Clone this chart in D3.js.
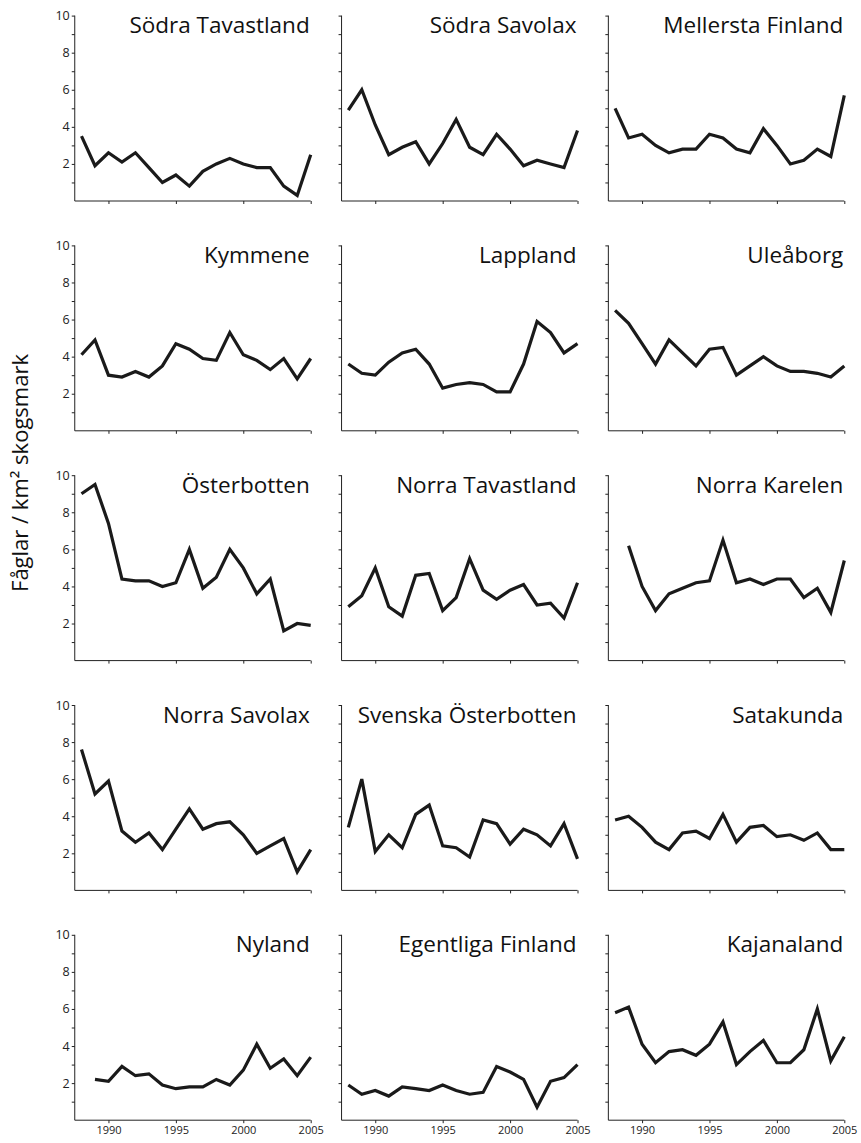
<!DOCTYPE html>
<html><head><meta charset="utf-8">
<script src="https://cdn.jsdelivr.net/npm/d3@7/dist/d3.min.js"></script>
<style>body{margin:0;background:#fff}svg{display:block}</style>
</head><body>
<script>
const years = d3.range(1988, 2006);
const regions = ["Södra Tavastland","Södra Savolax","Mellersta Finland","Kymmene","Lappland","Uleåborg","Österbotten","Norra Tavastland","Norra Karelen","Norra Savolax","Svenska Österbotten","Satakunda","Nyland","Egentliga Finland","Kajanaland"];
const sodraTavastland = [3.5,1.9,2.6,2.1,2.6,1.8,1.0,1.4,0.8,1.6,2.0,2.3,2.0,1.8,1.8,0.8,0.3,2.5];
const sodraSavolax = [4.9,6.0,4.1,2.5,2.9,3.2,2.0,3.1,4.4,2.9,2.5,3.6,2.8,1.9,2.2,2.0,1.8,3.8];
const mellerstaFinland = [5.0,3.4,3.6,3.0,2.6,2.8,2.8,3.6,3.4,2.8,2.6,3.9,3.0,2.0,2.2,2.8,2.4,5.7];
const kymmene = [4.1,4.9,3.0,2.9,3.2,2.9,3.5,4.7,4.4,3.9,3.8,5.3,4.1,3.8,3.3,3.9,2.8,3.9];
const lappland = [3.6,3.1,3.0,3.7,4.2,4.4,3.6,2.3,2.5,2.6,2.5,2.1,2.1,3.6,5.9,5.3,4.2,4.7];
const uleaborg = [6.5,5.8,4.7,3.6,4.9,4.2,3.5,4.4,4.5,3.0,3.5,4.0,3.5,3.2,3.2,3.1,2.9,3.5];
const osterbotten = [9.0,9.5,7.4,4.4,4.3,4.3,4.0,4.2,6.0,3.9,4.5,6.0,5.0,3.6,4.4,1.6,2.0,1.9];
const norraTavastland = [2.9,3.5,5.0,2.9,2.4,4.6,4.7,2.7,3.4,5.5,3.8,3.3,3.8,4.1,3.0,3.1,2.3,4.2];
const norraKarelen = [null,6.2,4.0,2.7,3.6,3.9,4.2,4.3,6.5,4.2,4.4,4.1,4.4,4.4,3.4,3.9,2.6,5.4];
const norraSavolax = [7.6,5.2,5.9,3.2,2.6,3.1,2.2,3.3,4.4,3.3,3.6,3.7,3.0,2.0,2.4,2.8,1.0,2.2];
const svenskaOsterbotten = [3.4,6.0,2.1,3.0,2.3,4.1,4.6,2.4,2.3,1.8,3.8,3.6,2.5,3.3,3.0,2.4,3.6,1.7];
const satakunda = [3.8,4.0,3.4,2.6,2.2,3.1,3.2,2.8,4.1,2.6,3.4,3.5,2.9,3.0,2.7,3.1,2.2,2.2];
const nyland = [null,2.2,2.1,2.9,2.4,2.5,1.9,1.7,1.8,1.8,2.2,1.9,2.7,4.1,2.8,3.3,2.4,3.4];
const egentligaFinland = [1.9,1.4,1.6,1.3,1.8,1.7,1.6,1.9,1.6,1.4,1.5,2.9,2.6,2.2,0.7,2.1,2.3,3.0];
const kajanaland = [5.8,6.1,4.1,3.1,3.7,3.8,3.5,4.1,5.3,3.0,3.7,4.3,3.1,3.1,3.8,6.0,3.2,4.5];
const seriesList = [sodraTavastland,sodraSavolax,mellerstaFinland,kymmene,lappland,uleaborg,osterbotten,norraTavastland,norraKarelen,norraSavolax,svenskaOsterbotten,satakunda,nyland,egentligaFinland,kajanaland];
const yTickLabels = [2,4,6,8,10];
const xTickLabels = [1990,1995,2000,2005];
const yAxisTitle = "Fåglar / km² skogsmark";

const W = 861, H = 1143;
const svg = d3.select("body").append("svg").attr("width", W).attr("height", H);
const font = "'Open Sans', Lato, sans-serif";
const axisColor = "#222";

seriesList.forEach((vals, i) => {
  const c = i % 3, r = Math.floor(i / 3);
  const x2005 = 310.7 + c * 266.8;
  const x = d3.scaleLinear().domain([1988, 2005]).range([x2005 - 229.2, x2005]);
  const y0 = 201 + r * 229.8;
  const y = d3.scaleLinear().domain([0, 10]).range([y0, y0 - 185.4]);
  const left = x(1987.5);
  const g = svg.append("g");

  // y axis
  const ya = d3.axisLeft(y).tickValues(d3.range(1, 11)).tickSize(3).tickPadding(2)
    .tickFormat(d => (c === 0 && yTickLabels.includes(d)) ? d : "");
  const gy = g.append("g").attr("transform", `translate(${left},0)`).call(ya);
  gy.select(".domain").attr("stroke", axisColor).attr("d", `M-0,${y(10)}V${y(0)}`);
  gy.selectAll(".tick line").attr("stroke", axisColor);
  gy.selectAll("text").attr("font-family", font).attr("font-size", 12.5).attr("fill", "#222");

  // x axis
  const xa = d3.axisBottom(x).tickValues(xTickLabels).tickSize(3).tickPadding(3)
    .tickFormat(d => r === 4 ? d : "");
  const gx = g.append("g").attr("transform", `translate(0,${y0})`).call(xa);
  gx.select(".domain").attr("stroke", axisColor).attr("d", `M${left},0H${x(2005)}`);
  gx.selectAll(".tick line").attr("stroke", axisColor);
  gx.selectAll("text").attr("font-family", font).attr("font-size", 11).attr("fill", "#222");

  // line
  const data = years.map((yr, k) => ({yr, v: vals[k]}));
  g.append("path").datum(data)
    .attr("fill", "none").attr("stroke", "#1a1a1a").attr("stroke-width", 3.2)
    .attr("stroke-linejoin", "miter")
    .attr("d", d3.line().defined(d => d.v != null).x(d => x(d.yr)).y(d => y(d.v)));

  // title
  g.append("text").attr("x", x(2005) - 1).attr("y", y(10) + 17.6)
    .attr("text-anchor", "end").attr("font-family", font).attr("font-size", 22.5)
    .attr("fill", "#111").text(regions[i]);
});

svg.append("text").attr("transform", "translate(28,473) rotate(-90)")
  .attr("text-anchor", "middle").attr("font-family", font).attr("font-size", 22)
  .attr("fill", "#111").text(yAxisTitle);
</script>
</body></html>
